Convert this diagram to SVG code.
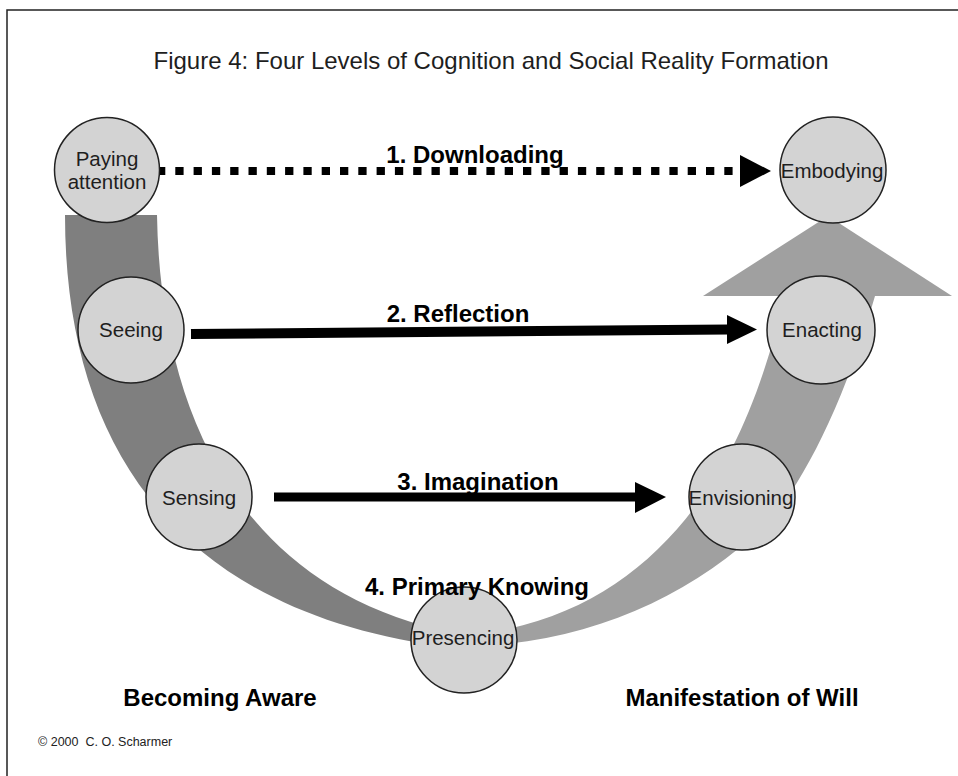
<svg xmlns="http://www.w3.org/2000/svg" width="958" height="776" viewBox="0 0 958 776">
<style>
text{font-family:"Liberation Sans",Arial,sans-serif;}
.node circle{fill:#d3d3d3;stroke:#222;stroke-width:1.5;}
.node text{font-size:20.5px;fill:#1e1e1e;text-anchor:middle;}
.lbl{font-size:24px;font-weight:bold;fill:#000;text-anchor:middle;}
.conn line{stroke:#000;}
.conn polygon{fill:#000;}
</style>
<rect x="0" y="0" width="958" height="776" fill="#fff"/>
<path d="M7,776 V10 H958" fill="none" stroke="#222" stroke-width="1.5"/>
<text x="491" y="69" font-size="24" fill="#1e1e1e" text-anchor="middle">Figure 4: Four Levels of Cognition and Social Reality Formation</text>

<g id="bands">
<path id="band-aware" d="M65,215 H157 C160,400 230,580 440,630 L440,646 C180,610 65,450 65,215 Z" fill="#7f7f7f"/>
<path id="band-will" d="M480,646 C600,640 700,590 770,520 C805,480 845,400 875,296 L785,296 C760,400 730,460 700,500 C650,570 580,620 480,634 Z" fill="#a0a0a0"/>
<polygon id="band-will-head" points="703,296 952,296 828,216" fill="#a0a0a0"/>
</g>

<g id="connectors" class="conn">
<line x1="157" y1="171" x2="733" y2="171" stroke-width="8" stroke-dasharray="8.3 10"/>
<polygon points="740,155 771,171 740,187"/>
<line x1="191" y1="334" x2="729" y2="329.5" stroke-width="10"/>
<polygon points="727,315 757,329.5 727,344"/>
<line x1="274" y1="497" x2="637" y2="497" stroke-width="9"/>
<polygon points="635,482 666,497 635,513"/>
</g>

<g id="paying-attention" class="node">
<circle cx="107" cy="170" r="52.5"/>
<text x="107" y="166">Paying</text>
<text x="107" y="189">attention</text>
</g>
<g id="seeing" class="node">
<circle cx="131" cy="330" r="53"/>
<text x="131" y="337">Seeing</text>
</g>
<g id="sensing" class="node">
<circle cx="199" cy="497" r="53"/>
<text x="199" y="505">Sensing</text>
</g>
<g id="presencing" class="node">
<circle cx="464" cy="640" r="53"/>
<text x="463" y="645">Presencing</text>
</g>
<g id="envisioning" class="node">
<circle cx="742" cy="497" r="53"/>
<text x="741" y="505">Envisioning</text>
</g>
<g id="enacting" class="node">
<circle cx="821" cy="330" r="54"/>
<text x="822" y="337">Enacting</text>
</g>
<g id="embodying" class="node">
<circle cx="833" cy="170" r="53"/>
<text x="832" y="178">Embodying</text>
</g>

<g id="labels">
<text class="lbl" x="475" y="163">1. Downloading</text>
<text class="lbl" x="458" y="322">2. Reflection</text>
<text class="lbl" x="478" y="490">3. Imagination</text>
<text class="lbl" x="477" y="595">4. Primary Knowing</text>
<text class="lbl" x="220" y="706">Becoming Aware</text>
<text class="lbl" x="742" y="706">Manifestation of Will</text>
<text x="38" y="746" font-size="12.5" fill="#222" style="white-space:pre">© 2000  C. O. Scharmer</text>
</g>
</svg>
